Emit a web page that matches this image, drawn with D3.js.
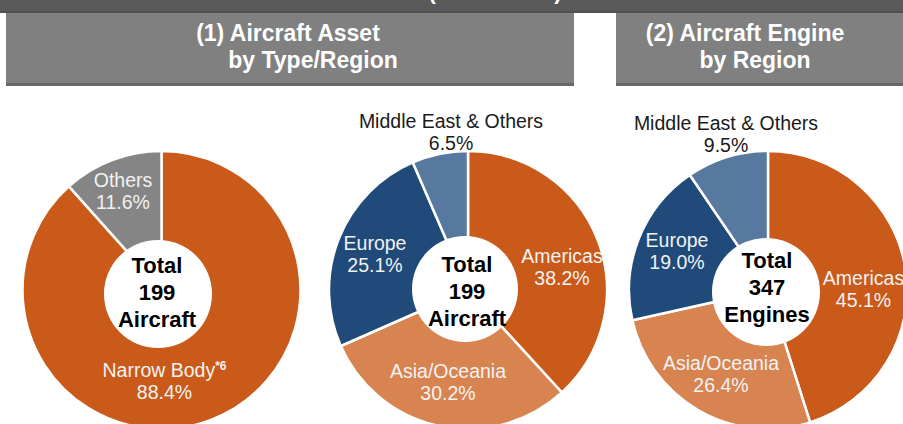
<!DOCTYPE html>
<html>
<head>
<meta charset="utf-8">
<script src="https://cdn.jsdelivr.net/npm/d3@7"></script>
<style>
	body { margin: 0; background: #fff; }
	svg { display: block; font-family: "Liberation Sans", Arial, sans-serif; }
</style>
</head>
<body>
<div id="chart"></div>
<script>
const W = 903, H = 424;

// data
const typeLabels = ["Narrow Body", "Others"];
const typeValues = [88.4, 11.6];

const regionLabels = ["Americas", "Asia/Oceania", "Europe", "Middle East & Others"];
const assetRegionValues = [38.2, 30.2, 25.1, 6.5];
const engineRegionValues = [45.1, 26.4, 19.0, 9.5];

const centerTexts = [
	["Total", "199", "Aircraft"],
	["Total", "199", "Aircraft"],
	["Total", "347", "Engines"]
];

const panelTitles = [
	["(1) Aircraft Asset", "by Type/Region"],
	["(2) Aircraft Engine", "by Region"]
];

const typeColors = ["#c95a1a", "#858585"];
const regionColors = ["#c95a1a", "#d88451", "#1f4a7a", "#57799f"];

// layout: pie centre, hole, label offsets (first baseline, relative to pie centre)
const R = 139;
const charts = [
	{
		cx: 161.5, cy: 290, labels: typeLabels, values: typeValues, colors: typeColors,
		hole: [158, 294, 54], center: [157, 273],
		lab: [[3, 87, "#f2f2f2"], [-38.5, -103, "#f2f2f2"]]
	},
	{
		cx: 468, cy: 290, labels: regionLabels, values: assetRegionValues, colors: regionColors,
		hole: [465, 289, 53], center: [467, 272],
		lab: [[94, -27, "#f2f2f2"], [-20, 88, "#f2f2f2"], [-93, -40, "#f2f2f2"], [-17, -162, "#1a1a1a"]]
	},
	{
		cx: 768, cy: 290, labels: regionLabels, values: engineRegionValues, colors: regionColors,
		hole: [766, 292, 54], center: [767, 268],
		lab: [[95.5, -5, "#f2f2f2"], [-47, 80, "#f2f2f2"], [-91, -43, "#f2f2f2"], [-42, -160, "#1a1a1a"]]
	}
];

const svg = d3.select("#chart").append("svg")
	.attr("width", W)
	.attr("height", H);

// header bands
svg.append("rect").attr("x", 0).attr("y", 0).attr("width", W).attr("height", 13).attr("fill", "#595959");
svg.append("rect").attr("x", 0).attr("y", 11).attr("width", W).attr("height", 2).attr("fill", "#505050");
// heading is cropped at the top edge in the source picture too
svg.append("text")
	.attr("x", 495).attr("y", -1.5)
	.attr("text-anchor", "middle")
	.attr("fill", "#fff").attr("font-weight", "bold").attr("font-size", 22)
	.text("(Book Value)");

const panels = [[6, 574], [616, 903]];
panels.forEach(([x0, x1]) => {
	svg.append("rect").attr("x", x0).attr("y", 13).attr("width", x1 - x0).attr("height", 73).attr("fill", "#808080");
	svg.append("rect").attr("x", x0).attr("y", 83).attr("width", x1 - x0).attr("height", 3).attr("fill", "#676767");
});

const titlePos = [[[288, 41], [313, 68]], [[745, 41], [755, 68]]];
panelTitles.forEach((lines, i) => {
	lines.forEach((t, j) => {
		svg.append("text")
			.attr("x", titlePos[i][j][0]).attr("y", titlePos[i][j][1])
			.attr("text-anchor", "middle")
			.attr("fill", "#fff").attr("font-weight", "bold").attr("font-size", 23)
			.text(t);
	});
});

const pie = d3.pie().sort(null).value(d => d);
const arc = d3.arc().innerRadius(0).outerRadius(R);

charts.forEach((c, ci) => {
	const g = svg.append("g").attr("transform", `translate(${c.cx},${c.cy})`);

	g.selectAll("path")
		.data(pie(c.values))
		.enter()
		.append("path")
		.attr("d", arc)
		.attr("fill", (d, i) => c.colors[i])
		.attr("stroke", "#fff")
		.attr("stroke-width", 2.5)
		.attr("stroke-linejoin", "round");

	svg.append("circle")
		.attr("cx", c.hole[0]).attr("cy", c.hole[1]).attr("r", c.hole[2])
		.attr("fill", "#fff");

	c.labels.forEach((name, i) => {
		const [dx, dy, col] = c.lab[i];
		const t = g.append("text")
			.attr("x", dx).attr("y", dy)
			.attr("text-anchor", "middle")
			.attr("fill", col).attr("font-size", 19.5);
		t.append("tspan").text(name);
		if (ci === 0 && i === 0) {
			t.append("tspan").attr("font-size", 12).attr("font-weight", "bold").attr("dy", -7).text("*6");
		}
		g.append("text")
			.attr("x", dx).attr("y", dy + 22)
			.attr("text-anchor", "middle")
			.attr("fill", col).attr("font-size", 19.5)
			.text(c.values[i].toFixed(1) + "%");
	});

	centerTexts[ci].forEach((t, j) => {
		svg.append("text")
			.attr("x", c.center[0]).attr("y", c.center[1] + j * 27)
			.attr("text-anchor", "middle")
			.attr("fill", "#000").attr("font-weight", "bold").attr("font-size", 22)
			.text(t);
	});
});
</script>
</body>
</html>
